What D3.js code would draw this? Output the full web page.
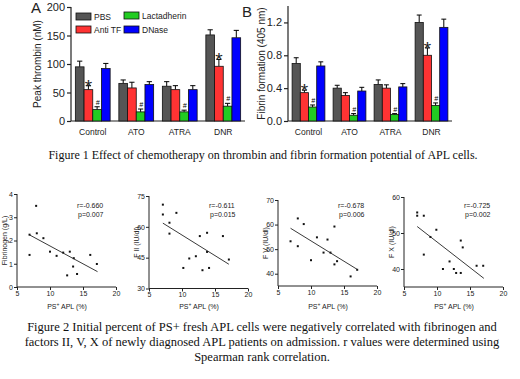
<!DOCTYPE html>
<html>
<head>
<meta charset="utf-8">
<script src="https://cdn.jsdelivr.net/npm/d3@7"></script>
<style>
body { margin: 0; background: #fff; }
svg { display: block; font-family: Arial, "Liberation Sans", sans-serif; }
</style>
</head>
<body>
<div id="chart"></div>
<script>
// figure 1 data
var groups = ["Control", "ATO", "ATRA", "DNR"];
var series = ["PBS", "Anti TF", "Lactadherin", "DNase"];
var seriesColor = ["#555555", "#ff3333", "#22cc22", "#0000ff"];

var thrombinMean = [[95, 55, 20, 92], [66, 58, 16, 64], [61, 55, 16, 55], [151, 96, 26, 146]];
var thrombinErr = [[10, 7, 5, 9], [6, 10, 5, 5], [8, 7, 3, 7], [9, 12, 5, 13]];
var fibrinMean = [[0.70, 0.345, 0.17, 0.67], [0.40, 0.31, 0.07, 0.365], [0.445, 0.40, 0.08, 0.415], [1.20, 0.80, 0.19, 1.14]];
var fibrinErr = [[0.07, 0.03, 0.025, 0.05], [0.035, 0.035, 0.02, 0.045], [0.055, 0.04, 0.01, 0.04], [0.09, 0.09, 0.03, 0.10]];
var sigMarks = [["", "*", "#", ""], ["", "", "#", ""], ["", "", "#", ""], ["", "*", "#", ""]];

var thrombinTicks = [0, 50, 100, 150, 200];
var fibrinTicks = [0, 0.4, 0.8, 1.2];

// figure 2 data
var scatterLabels = ["Fibrinogen (g/L)", "F II (IU/dl)", "F V (IU/dl)", "F X (IU/dl)"];
var scatterYDomain = [[0, 4], [30, 75], [35, 70], [35, 60]];
var scatterYTicks = [[0, 1, 2, 3, 4], [30, 45, 60, 75], [40, 50, 60, 70], [40, 50, 60]];
var scatterXTicks = [5, 10, 15, 20];

var fibrinogenPts = [[7.9, 3.49], [8.0, 2.31], [6.9, 2.25], [6.9, 1.38], [9.0, 2.1], [10.0, 1.52], [11.0, 1.34], [12.0, 1.48],
    [13.0, 1.52], [13.6, 1.24], [13.5, 0.88], [12.6, 0.5], [14.1, 0.56], [16.1, 1.38], [17.1, 0.99]];
var f2Pts = [[7.1, 70.8], [7.1, 66.0], [9.15, 66.8], [8.1, 62.0], [8.1, 56.7], [12.7, 55.5], [13.8, 57.1], [16.2, 55.5],
    [13.8, 47.8], [12.1, 45.7], [11.1, 44.6], [17.1, 44.1], [10.2, 40.0], [13.1, 38.9], [14.1, 40.0]];
var f5Pts = [[8.0, 62.5], [8.9, 60.2], [6.9, 53.2], [8.0, 51.2], [10.9, 54.8], [12.5, 53.9], [13.55, 59.2], [11.9, 48.6],
    [12.95, 48.6], [10.0, 45.5], [13.55, 43.8], [13.95, 45.1], [17.0, 41.6], [16.0, 38.9]];
var f10Pts = [[7.0, 55.7], [7.0, 54.8], [8.0, 54.8], [8.0, 44.0], [9.0, 48.9], [9.9, 50.9], [13.6, 47.9], [13.9, 46.0],
    [11.9, 42.1], [10.9, 40.0], [12.55, 40.0], [12.9, 38.9], [13.6, 38.9], [16.0, 40.9], [17.0, 40.9]];
var scatterPts = [fibrinogenPts, f2Pts, f5Pts, f10Pts];
var fitLines = [[[6.9, 2.24], [17.2, 0.66]], [[7.1, 61.8], [17.1, 41.8]], [[6.9, 58.5], [17.1, 41.6]], [[7.0, 51.8], [17.1, 37.4]]];
var rText = ["r=-0.660", "r=-0.611", "r=-0.678", "r=-0.725"];
var pText = ["p=0.007", "p=0.015", "p=0.006", "p=0.002"];

var caption1 = "Figure 1 Effect of chemotherapy on thrombin and fibrin formation potential of APL cells.";
var caption2 = ["Figure 2 Initial percent of PS+ fresh APL cells were negatively correlated with fibrinogen and",
    "factors II, V, X of newly diagnosed APL patients on admission. r values were determined using",
    "Spearman rank correlation."];

var svg = d3.select("#chart").append("svg")
    .attr("width", 520)
    .attr("height", 379);

function barPanel(opt) {
    var g = svg.append("g");
    var y = d3.scaleLinear().domain(opt.domain).range([121, opt.top]);
    var x0 = d3.scaleBand().domain(groups).range(opt.xr).paddingInner(0.2).paddingOuter(0.1);
    var x1 = d3.scaleBand().domain(series).range([0, x0.bandwidth()]);

    var yAxis = d3.axisLeft(y).tickValues(opt.ticks).tickSize(4).tickPadding(2).tickFormat(opt.fmt);
    var ya = g.append("g").attr("transform", "translate(" + opt.xr[0] + ",0)").call(yAxis);
    ya.select(".domain").attr("d", "M0," + y(opt.domain[1]) + "V" + y(0));
    ya.selectAll("text").attr("font-size", "11px").attr("fill", "#222");
    ya.selectAll("path,line").attr("stroke", "#222").attr("stroke-width", 1.2);

    g.append("line")
        .attr("x1", opt.xr[0]).attr("x2", opt.xr[1])
        .attr("y1", y(0)).attr("y2", y(0))
        .attr("stroke", "#222").attr("stroke-width", 1.2);

    groups.forEach(function (grp, gi) {
        var gg = g.append("g").attr("transform", "translate(" + x0(grp) + ",0)");
        series.forEach(function (s, si) {
            var v = opt.mean[gi][si], e = opt.err[gi][si];
            var bx = x1(s), bw = x1.bandwidth(), cx = bx + bw / 2;
            gg.append("line")
                .attr("x1", cx).attr("x2", cx)
                .attr("y1", y(v)).attr("y2", y(v + e))
                .attr("stroke", "#000").attr("stroke-width", 1);
            gg.append("line")
                .attr("x1", cx - bw * 0.3).attr("x2", cx + bw * 0.3)
                .attr("y1", y(v + e)).attr("y2", y(v + e))
                .attr("stroke", "#000").attr("stroke-width", 1);
            gg.append("rect")
                .attr("x", bx).attr("width", bw)
                .attr("y", y(v)).attr("height", y(0) - y(v))
                .attr("fill", seriesColor[si])
                .attr("stroke", "#111").attr("stroke-width", 0.8);
            var m = sigMarks[gi][si];
            if (m == "*") {
                gg.append("text").attr("x", cx).attr("y", y(v + e) + 7)
                    .attr("text-anchor", "middle").attr("font-size", "19px").attr("fill", "#222").text("*");
            } else if (m == "#") {
                gg.append("text").attr("x", cx + 0.5).attr("y", y(v + e) - 2)
                    .attr("text-anchor", "middle").attr("font-size", "7px").attr("font-style", "italic").text("#");
            }
        });
        g.append("text")
            .attr("x", x0(grp) + x0.bandwidth() / 2).attr("y", 135)
            .attr("text-anchor", "middle").attr("font-size", "8.5px").attr("fill", "#222")
            .text(grp);
    });

    g.append("text")
        .attr("transform", "translate(" + opt.labX + "," + (y.range()[0] + y.range()[1]) / 2 + ") rotate(-90)")
        .attr("text-anchor", "middle").attr("font-size", "10px").attr("fill", "#222")
        .text(opt.label);
    g.append("text").attr("x", opt.letterX).attr("y", opt.letterY)
        .attr("font-size", "15px").attr("fill", "#222").text(opt.letter);
}

barPanel({ xr: [71, 245], domain: [0, 200], top: 7, ticks: thrombinTicks, fmt: d3.format("d"),
    mean: thrombinMean, err: thrombinErr, label: "Peak thrombin (nM)", labX: 41, letter: "A", letterX: 31, letterY: 13 });
barPanel({ xr: [288, 452], domain: [0, 1.4], top: 6, ticks: fibrinTicks, fmt: d3.format(".1f"),
    mean: fibrinMean, err: fibrinErr, label: "Fibrin formation (405 nm)", labX: 265, letter: "B", letterX: 242, letterY: 17 });

// legend
var legendPos = [[76, 13], [76, 26], [124, 12], [124, 26]];
series.forEach(function (s, i) {
    svg.append("rect").attr("x", legendPos[i][0]).attr("y", legendPos[i][1])
        .attr("width", 15).attr("height", 7)
        .attr("fill", seriesColor[i]).attr("stroke", "#111").attr("stroke-width", 0.8);
    svg.append("text").attr("x", legendPos[i][0] + 18).attr("y", legendPos[i][1] + 7)
        .attr("font-size", "8.5px").attr("fill", "#222").text(s);
});

svg.append("text").attr("x", 263).attr("y", 159)
    .attr("text-anchor", "middle")
    .style("font-family", "'Liberation Serif', 'Times New Roman', serif")
    .attr("font-size", "12px").attr("fill", "#111")
    .text(caption1);

// scatter panels
var scatterAxisX = [17, 149, 278, 404];
var scatterYRange = [[287, 194], [288.5, 196], [286, 200], [287, 197]];

scatterPts.forEach(function (pts, k) {
    var g = svg.append("g");
    var x0 = scatterAxisX[k];
    var x = d3.scaleLinear().domain([5, 20]).range([x0, x0 + 99]);
    var y = d3.scaleLinear().domain(scatterYDomain[k]).range(scatterYRange[k]);
    var yb = y.range()[0];

    var xa = g.append("g").attr("transform", "translate(0," + yb + ")")
        .call(d3.axisBottom(x).tickValues(scatterXTicks).tickSize(3).tickPadding(1).tickFormat(d3.format("d")));
    var ya = g.append("g").attr("transform", "translate(" + x0 + ",0)")
        .call(d3.axisLeft(y).tickValues(scatterYTicks[k]).tickSize(3).tickPadding(1).tickFormat(d3.format("d")));
    [xa, ya].forEach(function (a) {
        a.selectAll("text").attr("font-size", "7px").attr("fill", "#222");
        a.selectAll("path,line").attr("stroke", "#222").attr("stroke-width", 1);
    });
    xa.select(".domain").attr("d", "M" + x0 + ",0H" + (x0 + 99));
    ya.select(".domain").attr("d", "M0," + y.range()[1] + "V" + yb);

    g.selectAll(".pt").data(pts).enter().append("rect")
        .attr("x", function (d) { return x(d[0]) - 1; })
        .attr("y", function (d) { return y(d[1]) - 1; })
        .attr("width", 2).attr("height", 2).attr("fill", "#111");

    g.append("line")
        .attr("x1", x(fitLines[k][0][0])).attr("y1", y(fitLines[k][0][1]))
        .attr("x2", x(fitLines[k][1][0])).attr("y2", y(fitLines[k][1][1]))
        .attr("stroke", "#222").attr("stroke-width", 0.9);

    g.append("text").attr("x", x0 + 60).attr("y", 208).attr("font-size", "7px").attr("fill", "#222").text(rText[k]);
    g.append("text").attr("x", x0 + 61).attr("y", 217).attr("font-size", "7px").attr("fill", "#222").text(pText[k]);

    g.append("text")
        .attr("transform", "translate(" + (x0 - 10) + "," + (yb + y.range()[1]) / 2 + ") rotate(-90)")
        .attr("text-anchor", "middle").attr("font-size", "7px").attr("fill", "#222")
        .text(scatterLabels[k]);

    var xl = g.append("text").attr("x", x0 + 50).attr("y", 309)
        .attr("text-anchor", "middle").attr("font-size", "7px").attr("fill", "#222");
    xl.append("tspan").text("PS");
    xl.append("tspan").attr("font-size", "5px").attr("dy", -3).text("+");
    xl.append("tspan").attr("dy", 3).text(" APL (%)");
});

caption2.forEach(function (line, i) {
    svg.append("text").attr("x", 262).attr("y", 331 + i * 15)
        .attr("text-anchor", "middle")
        .style("font-family", "'Liberation Serif', 'Times New Roman', serif")
        .attr("font-size", "12.5px").attr("fill", "#111")
        .text(line);
});
</script>
</body>
</html>
